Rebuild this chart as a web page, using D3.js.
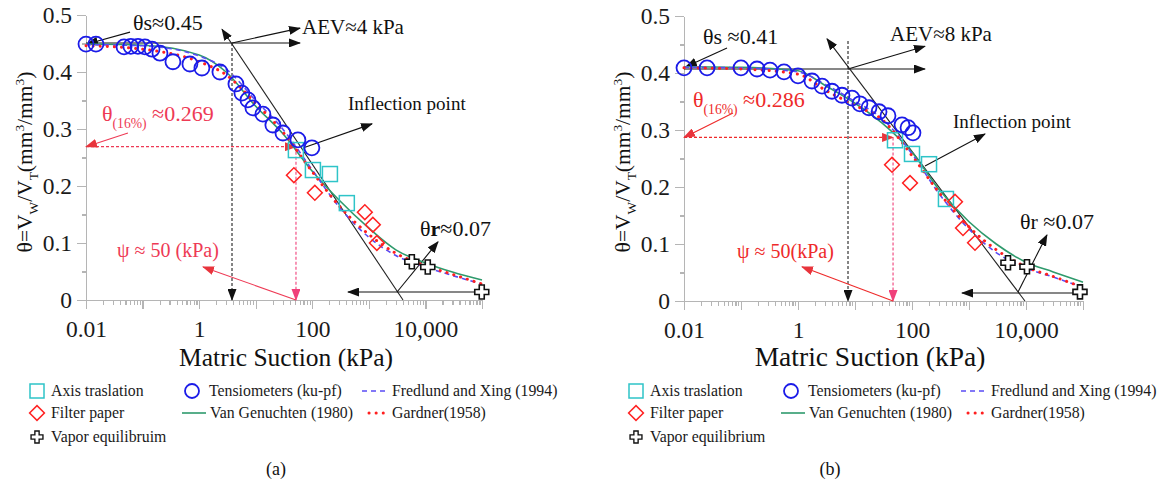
<!DOCTYPE html>
<html lang="en">
<head>
<meta charset="utf-8">
<script src="https://d3js.org/d3.v7.min.js"></script>
<style>
  body { margin: 0; background: #fff; }
  svg { font-family: "Liberation Serif", serif; }
  .axis path, .axis line { stroke: #b5b5b5; stroke-width: 1.2; shape-rendering: crispEdges; }
  .axis text { font: 23.5px "Liberation Serif", serif; fill: #1a1a1a; }
  .leg { font-size: 15.8px; fill: #1a1a1a; }
</style>
</head>
<body>
<div id="chart"></div>
<script>
// suction grid (kPa) on which the fitted curves were read
var suction = [0.01, 0.1, 1, 3, 10, 30, 100, 300, 1000, 3000, 10000, 30000, 100000];

// (a) fitted curves
var vanGenA   = [0.449, 0.447, 0.430, 0.400, 0.340, 0.292, 0.226, 0.175, 0.126, 0.088, 0.065, 0.049, 0.035];
var fredXingA = [0.448, 0.446, 0.428, 0.405, 0.350, 0.300, 0.228, 0.163, 0.110, 0.078, 0.058, 0.043, 0.028];
var gardnerA  = [0.446, 0.440, 0.418, 0.395, 0.345, 0.295, 0.225, 0.165, 0.115, 0.082, 0.060, 0.045, 0.028];

// (a) measurements [suction kPa, theta]
var tensA = [[0.01,0.449],[0.015,0.449],[0.047,0.444],[0.062,0.445],[0.083,0.445],[0.11,0.444],
  [0.147,0.440],[0.203,0.433],[0.344,0.418],[0.687,0.414],[1.12,0.407],[2.33,0.400],[4.47,0.379],
  [5.7,0.363],[7.28,0.351],[8.93,0.337],[13.4,0.326],[20.1,0.307],[30.3,0.293],[55.7,0.281],[98.4,0.267]];
var axisA   = [[51.3,0.263],[102.6,0.228],[205,0.221],[408,0.170]];
var filterA = [[47.3,0.219],[111,0.188],[849,0.154],[1177,0.132],[1385,0.100]];
var vaporA  = [[5750,0.067],[11000,0.058],[99000,0.014]];

// (b) fitted curves
var vanGenB   = [0.411, 0.410, 0.404, 0.378, 0.347, 0.312, 0.261, 0.195, 0.139, 0.100, 0.068, 0.051, 0.033];
var fredXingB = [0.410, 0.409, 0.402, 0.380, 0.350, 0.320, 0.258, 0.188, 0.126, 0.085, 0.058, 0.042, 0.024];
var gardnerB  = [0.409, 0.407, 0.398, 0.370, 0.343, 0.318, 0.255, 0.190, 0.130, 0.090, 0.060, 0.043, 0.024];

// (b) measurements
var tensB = [[0.01,0.409],[0.0254,0.409],[0.1,0.409],[0.191,0.407],[0.323,0.405],[0.568,0.402],
  [1.0,0.395],[1.76,0.386],[2.64,0.377],[3.95,0.368],[5.91,0.361],[8.85,0.356],[12.2,0.346],
  [17.6,0.339],[26.4,0.332],[37.9,0.325],[66.8,0.309],[85.2,0.304],[104,0.295]];
var axisB   = [[50.3,0.282],[100,0.258],[199,0.240],[394,0.179]];
var filterB = [[44.6,0.239],[92.3,0.207],[568,0.174],[785,0.128],[1274,0.102]];
var vaporB  = [[4830,0.067],[10400,0.060],[88500,0.016]];

var xTicks = [0.01, 0.1, 1, 10, 100, 1000, 10000, 100000];
var xLabels = {"0.01": "0.01", "1": "1", "100": "100", "10000": "10,000"};
var yTicks = [0, 0.1, 0.2, 0.3, 0.4, 0.5];

// annotation anchors, in data units
var annA = {
  thetaS: 0.451, sEnd: 60.7, aev: 3.81, aevTip: [60.7, 0.477], vTop: 0.451,
  tangent: [[2.54, 0.475], [4018, 0]],
  sArrow: [[0.060, 0.470], [0.0104, 0.449]],
  infl: [[74.3, 0.268], [1138, 0.309]],
  t16: 0.269, psi: 51.5, t16Arrow: [[0.0552, 0.293], [0.01, 0.269]],
  psiArrow: [[51.5, 0], [1.17, 0.058]],
  rHoriz: [[1e5, 0.014], [428, 0.014]], rDiag: [[3148, 0.014], [16700, 0.102]]
};
var annB = {
  thetaS: 0.407, sEnd: 169, aev: 7.54, aevTip: [169, 0.447], vTop: 0.456,
  tangent: [[3.23, 0.460], [9590, 0]],
  sArrow: [[0.0568, 0.444], [0.0108, 0.411]],
  infl: [[169, 0.237], [1910, 0.293]],
  t16: 0.287, psi: 46.5, t16Arrow: [[0.0724, 0.330], [0.01, 0.287]],
  psiArrow: [[46.5, 0], [1.175, 0.060]],
  rHoriz: [[88500, 0.014], [753, 0.014]], rDiag: [[7244, 0.016], [23300, 0.116]]
};

var svg = d3.select("#chart").append("svg")
  .attr("width", 1166).attr("height", 484)
  .style("background-color", "white");

var defs = svg.append("defs");
[["blk", "#111"], ["red", "#e8343c"], ["pink", "#f0407a"]].forEach(function (m) {
  defs.append("marker")
    .attr("id", "ah-" + m[0])
    .attr("markerUnits", "userSpaceOnUse")
    .attr("markerWidth", 12).attr("markerHeight", 9)
    .attr("refX", 11).attr("refY", 4.5)
    .attr("orient", "auto")
    .append("path").attr("d", "M0,0L12,4.5L0,9Z").attr("fill", m[1]);
});

function rich(g, x, y, parts, size, color, anchor) {
  var t = g.append("text").attr("x", x).attr("y", y)
    .style("font-size", size + "px").attr("fill", color);
  if (anchor) t.attr("text-anchor", anchor);
  var shift = 0;
  parts.forEach(function (p) {
    var s = t.append("tspan").text(p[0]);
    var want = 0;
    if (p[1] === "sub") { want = size * 0.3; s.style("font-size", (size * 0.62) + "px"); }
    if (p[1] === "sup") { want = -size * 0.38; s.style("font-size", (size * 0.62) + "px"); }
    if (p[1] === "b") s.style("font-weight", "bold");
    if (want !== shift) { s.attr("dy", want - shift); shift = want; }
  });
  return t;
}

var panels = [
  {x0: 86, x1: 482, y0: 300, y1: 15, tens: tensA, axisT: axisA, filter: filterA, vapor: vaporA,
   vg: vanGenA, fx: fredXingA, gd: gardnerA, ann: annA, red: "#ee3a55", legX: 0,
   titleX: 286, titleSize: 25.5, yTitleX: 24, tag: "(a)", tagX: 276, vapLabel: "Vapor equilibruim",
   texts: [
     {x: 133, y: 30, s: 22, c: "#111", p: [["θs≈0.45"]]},
     {x: 302, y: 34, s: 21, c: "#111", p: [["AEV≈4 kPa"]]},
     {x: 348, y: 110, s: 19, c: "#111", p: [["Inflection point"]]},
     {x: 102, y: 121, s: 22, c: "#ee3a55", p: [["θ"], ["(16%)", "sub"], [" ≈0.269"]]},
     {x: 117, y: 257, s: 20, c: "#ee3a55", p: [["ψ ≈ 50 (kPa)"]]},
     {x: 420, y: 236, s: 22, c: "#111", p: [["θ"], ["r", "b"], ["≈0.07"]]}
   ]},
  {x0: 684, x1: 1083, y0: 301, y1: 16, tens: tensB, axisT: axisB, filter: filterB, vapor: vaporB,
   vg: vanGenB, fx: fredXingB, gd: gardnerB, ann: annB, red: "#ee2a2a", legX: 599,
   titleX: 870, titleSize: 27.5, yTitleX: 622, tag: "(b)", tagX: 830, vapLabel: "Vapor equilibrium",
   texts: [
     {x: 703, y: 44, s: 22, c: "#111", p: [["θs ≈0.41"]]},
     {x: 890, y: 41, s: 21, c: "#111", p: [["AEV≈8 kPa"]]},
     {x: 953, y: 128, s: 19, c: "#111", p: [["Inflection point"]]},
     {x: 693, y: 107, s: 22, c: "#ee2a2a", p: [["θ"], ["(16%)", "sub"], [" ≈0.286"]]},
     {x: 737, y: 258, s: 20, c: "#ee2a2a", p: [["ψ ≈ 50(kPa)"]]},
     {x: 1020, y: 229, s: 22, c: "#111", p: [["θr ≈0.07"]]}
   ]}
];

panels.forEach(function (P) {
  var x = d3.scaleLog().domain([0.01, 1e5]).range([P.x0, P.x1]);
  var y = d3.scaleLinear().domain([0, 0.5]).range([P.y0, P.y1]);
  var g = svg.append("g");
  var pt = function (d) { return [x(d[0]), y(d[1])]; };

  // axes
  var minor = [];
  for (var e = -2; e < 5; e++) for (var k = 2; k <= 9; k++) minor.push(k * Math.pow(10, e));
  g.append("g").attr("class", "axis").attr("transform", "translate(0," + P.y0 + ")")
    .call(d3.axisBottom(x).tickValues(minor).tickSize(5).tickFormat("").tickSizeOuter(0));
  g.append("g").attr("class", "axis").attr("transform", "translate(0," + P.y0 + ")")
    .call(d3.axisBottom(x).tickValues(xTicks).tickSize(9).tickPadding(11).tickSizeOuter(0)
      .tickFormat(function (d) { return xLabels[String(d)] || ""; }));
  g.append("g").attr("class", "axis").attr("transform", "translate(" + P.x0 + ",0)")
    .call(d3.axisLeft(y).tickValues([0.05, 0.15, 0.25, 0.35, 0.45]).tickSize(4).tickFormat("").tickSizeOuter(0));
  g.append("g").attr("class", "axis").attr("transform", "translate(" + P.x0 + ",0)")
    .call(d3.axisLeft(y).tickValues(yTicks).tickSize(9).tickPadding(5).tickSizeOuter(0)
      .tickFormat(function (d) { return d === 0 ? "0" : d.toFixed(1); }));

  // axis titles
  rich(g, P.titleX, 366, [["Matric Suction (kPa)"]], P.titleSize, "#111", "middle");
  var yt = g.append("g").attr("transform", "translate(" + P.yTitleX + ",162) rotate(-90)");
  rich(yt, 0, 8, [["θ=V"], ["W", "sub"], ["/V"], ["T", "sub"], ["(mm"], ["3", "sup"], ["/mm"], ["3", "sup"], [")"]],
    21.5, "#111", "middle");

  // annotation lines
  var A = P.ann;
  function seg(a, b, color, dash, marker, w) {
    var l = g.append("line")
      .attr("x1", pt(a)[0]).attr("y1", pt(a)[1]).attr("x2", pt(b)[0]).attr("y2", pt(b)[1])
      .attr("stroke", color).attr("stroke-width", w || 1.1);
    if (dash) l.attr("stroke-dasharray", dash);
    if (marker) l.attr("marker-end", "url(#ah-" + marker + ")");
  }
  seg([0.01, A.thetaS], [A.sEnd, A.thetaS], "#111", null, "blk");
  seg([A.aev, A.thetaS], A.aevTip, "#111", null, "blk");
  seg(A.tangent[1], A.tangent[0], "#222", null, "blk");
  seg([A.aev, A.vTop], [A.aev, 0], "#222", "3,2", "blk");
  seg(A.sArrow[0], A.sArrow[1], "#111", null, "blk");
  seg(A.infl[0], A.infl[1], "#111", null, "blk");
  seg([0.01, A.t16], [A.psi, A.t16], P.red, "3,2", "red");
  seg([A.psi, A.t16], [A.psi, 0], "#f0407a", "3,2", "pink");
  seg(A.t16Arrow[0], A.t16Arrow[1], P.red, null, "red");
  seg(A.psiArrow[0], A.psiArrow[1], P.red, null, "red");
  seg(A.rHoriz[0], A.rHoriz[1], "#111", null, "blk");
  seg(A.rDiag[0], A.rDiag[1], "#111", null, "blk");

  P.texts.forEach(function (t) { rich(g, t.x, t.y, t.p, t.s, t.c); });

  // fitted curves
  var line = d3.line().curve(d3.curveMonotoneX)
    .x(function (d, i) { return x(suction[i]); }).y(function (d) { return y(d); });
  g.append("path").attr("d", line(P.vg)).attr("fill", "none")
    .attr("stroke", "#2e9a6c").attr("stroke-width", 1.6);
  g.append("path").attr("d", line(P.fx)).attr("fill", "none")
    .attr("stroke", "#5a4cf5").attr("stroke-width", 1.6).attr("stroke-dasharray", "5,4");
  g.append("path").attr("d", line(P.gd)).attr("fill", "none")
    .attr("stroke", "#ff1f1f").attr("stroke-width", 3).attr("stroke-linecap", "round")
    .attr("stroke-dasharray", "0.1,7");

  // measurements
  g.selectAll(".sq").data(P.axisT).enter().append("rect")
    .attr("x", function (d) { return x(d[0]) - 7.5; }).attr("y", function (d) { return y(d[1]) - 7.5; })
    .attr("width", 15).attr("height", 15).attr("fill", "none")
    .attr("stroke", "#2ec4c8").attr("stroke-width", 1.5);
  var diamond = d3.symbol().type(d3.symbolSquare).size(110);
  g.selectAll(".dm").data(P.filter).enter().append("path")
    .attr("d", diamond)
    .attr("transform", function (d) { return "translate(" + x(d[0]) + "," + y(d[1]) + ") rotate(45)"; })
    .attr("fill", "none").attr("stroke", "#ff2222").attr("stroke-width", 1.5);
  g.selectAll(".cr").data(P.tens).enter().append("circle")
    .attr("cx", function (d) { return x(d[0]); }).attr("cy", function (d) { return y(d[1]); })
    .attr("r", 7.5).attr("fill", "none").attr("stroke", "#1b1be8").attr("stroke-width", 1.8);
  var plus = "M-2.5,-7H2.5V-2.5H7V2.5H2.5V7H-2.5V2.5H-7V-2.5H-2.5Z";
  g.selectAll(".vp").data(P.vapor).enter().append("path")
    .attr("d", plus)
    .attr("transform", function (d) { return "translate(" + x(d[0]) + "," + y(d[1]) + ")"; })
    .attr("fill", "#fff").attr("stroke", "#111").attr("stroke-width", 1.6);

  // legend
  var L = g.append("g").attr("transform", "translate(" + P.legX + ",0)");
  L.append("rect").attr("x", 30).attr("y", 384).attr("width", 14).attr("height", 14)
    .attr("fill", "none").attr("stroke", "#2ec4c8").attr("stroke-width", 1.5);
  L.append("path").attr("d", diamond).attr("transform", "translate(37,413) rotate(45)")
    .attr("fill", "none").attr("stroke", "#ff2222").attr("stroke-width", 1.5);
  L.append("path").attr("d", plus).attr("transform", "translate(37,437) scale(0.85)")
    .attr("fill", "#fff").attr("stroke", "#111").attr("stroke-width", 1.6);
  L.append("circle").attr("cx", 192).attr("cy", 391).attr("r", 7)
    .attr("fill", "none").attr("stroke", "#1b1be8").attr("stroke-width", 1.8);
  L.append("line").attr("x1", 182).attr("x2", 206).attr("y1", 413).attr("y2", 413)
    .attr("stroke", "#2e9a6c").attr("stroke-width", 1.6);
  L.append("line").attr("x1", 362).attr("x2", 386).attr("y1", 391).attr("y2", 391)
    .attr("stroke", "#5a4cf5").attr("stroke-width", 1.6).attr("stroke-dasharray", "5,4");
  L.append("line").attr("x1", 369).attr("x2", 386).attr("y1", 413).attr("y2", 413)
    .attr("stroke", "#ff1f1f").attr("stroke-width", 3).attr("stroke-linecap", "round")
    .attr("stroke-dasharray", "0.1,7");
  [["Axis traslation", 51, 396], ["Filter paper", 51, 418], [P.vapLabel, 51, 442],
   ["Tensiometers (ku-pf)", 209, 396], ["Van Genuchten (1980)", 210, 418],
   ["Fredlund and Xing (1994)", 392, 396], ["Gardner(1958)", 392, 418]].forEach(function (t) {
    L.append("text").attr("class", "leg").attr("x", t[1]).attr("y", t[2]).text(t[0]);
  });

  g.append("text").attr("x", P.tagX).attr("y", 475).attr("text-anchor", "middle")
    .style("font-size", "18px").attr("fill", "#111").text(P.tag);
});
</script>
</body>
</html>
